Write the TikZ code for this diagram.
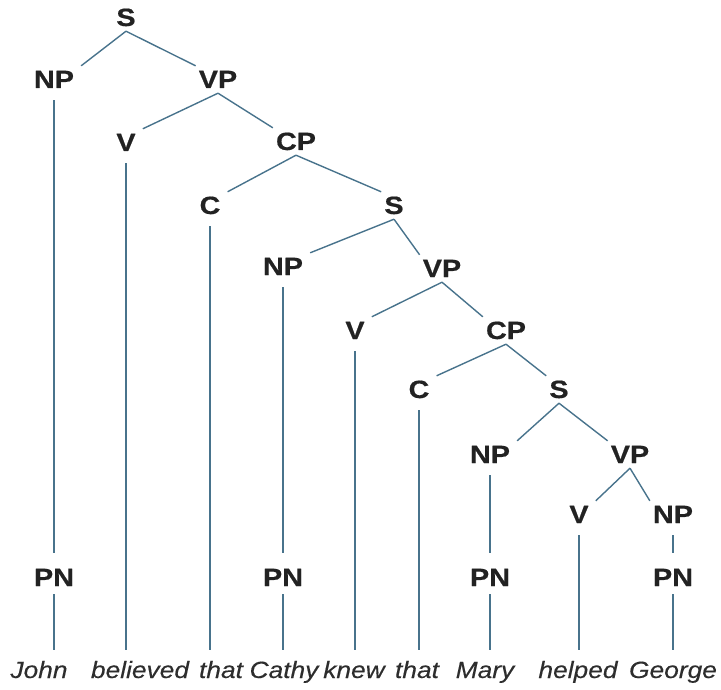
\documentclass[tikz,border=0pt]{standalone}
\usepackage{fontspec}
\newfontfamily\labfont[FakeStretch=1.15,FakeBold=0.6]{Liberation Sans}
\newfontfamily\wordfont[FakeStretch=1.12,FakeBold=0.3]{Liberation Sans}
\definecolor{treeblue}{RGB}{72,115,140}
\definecolor{labgray}{RGB}{34,34,34}
\definecolor{wordgray}{RGB}{45,45,45}
\tikzset{
  lab/.style={font=\labfont\bfseries\fontsize{25}{25}\selectfont, text=labgray,
    inner sep=0pt, text height=18pt, text depth=0pt},
  word/.style={font=\wordfont\itshape\fontsize{23.5}{23.5}\selectfont, text=wordgray,
    inner sep=0pt, anchor=base, text height=16pt, text depth=0pt},
  branch/.style={draw=treeblue, line width=1.4pt},
}
\begin{document}
\begin{tikzpicture}[x=1pt,y=-1pt]
\useasboundingbox (0,0) rectangle (721,690);
% phrase labels
\node[lab] (s1)  at (126,17)  {S};
\node[lab] (np1) at (54,79)   {NP};
\node[lab] (vp1) at (218,79)  {VP};
\node[lab] (v1)  at (126,142) {V};
\node[lab] (cp1) at (296,141) {CP};
\node[lab] (c1)  at (210,205) {C};
\node[lab] (s2)  at (394,205) {S};
\node[lab] (np2) at (283,266) {NP};
\node[lab] (vp2) at (442,268) {VP};
\node[lab] (v2)  at (355,330) {V};
\node[lab] (cp2) at (506,330) {CP};
\node[lab] (c2)  at (419,389) {C};
\node[lab] (s3)  at (559,389) {S};
\node[lab] (np3) at (490,454) {NP};
\node[lab] (vp3) at (630,454) {VP};
\node[lab] (v3)  at (579,514) {V};
\node[lab] (np4) at (673,514) {NP};
\node[lab] (pn1) at (54,577)  {PN};
\node[lab] (pn2) at (283,577) {PN};
\node[lab] (pn3) at (490,577) {PN};
\node[lab] (pn4) at (673,577) {PN};
% the sentence
\node[word] (w1) at (39,678)  {John};
\node[word] (w2) at (140,678) {believed};
\node[word] (w3) at (221,678) {that};
\node[word] (w4) at (284,678) {Cathy};
\node[word] (w5) at (354,678) {knew};
\node[word] (w6) at (417,678) {that};
\node[word] (w7) at (485,678) {Mary};
\node[word] (w8) at (578,678) {helped};
\node[word] (w9) at (673,678) {George};
% branching edges
\foreach \p/\l/\r in {s1/np1/vp1, vp1/v1/cp1, cp1/c1/s2, s2/np2/vp2,
                      vp2/v2/cp2, cp2/c2/s3, s3/np3/vp3, vp3/v3/np4} {
  \draw[branch] ([yshift=-5pt]\p.south) -- ([shift={(7,-4)}]\l.north east);
  \draw[branch] ([yshift=-5pt]\p.south) -- ([shift={(-3,-4)}]\r.north west);
}
% long stems down to the words
\foreach \n/\w in {v1/w2, c1/w3, v2/w5, c2/w6, v3/w8}
  \draw[branch, shorten <=12pt, shorten >=12pt] (\n.south) -- (\n.south |- \w.north);
\foreach \n/\m in {np1/pn1, np2/pn2, np3/pn3, np4/pn4}
  \draw[branch, shorten <=12pt, shorten >=15pt] (\n.south) -- (\m.north);
\foreach \m/\w in {pn1/w1, pn2/w4, pn3/w7, pn4/w9}
  \draw[branch, shorten <=8pt, shorten >=12pt] (\m.south) -- (\m.south |- \w.north);
\end{tikzpicture}
\end{document}
